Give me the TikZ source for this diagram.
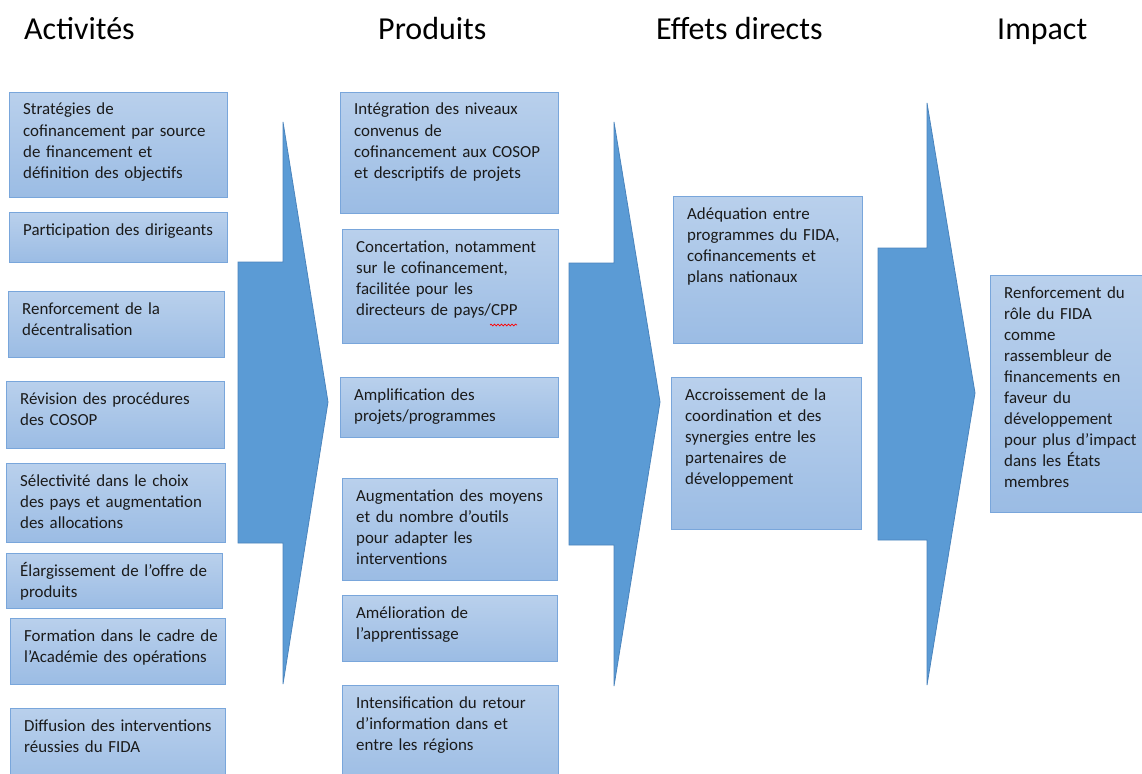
\documentclass[tikz,border=0pt]{standalone}
\usepackage{fontspec}
\setmainfont{Carlito}
\usetikzlibrary{decorations.pathmorphing}
\definecolor{boxtop}{HTML}{B9D0EC}
\definecolor{boxbot}{HTML}{9BBCE4}
\definecolor{boxline}{HTML}{79A6DB}
\definecolor{arrfill}{HTML}{5B9BD5}
\definecolor{arrline}{HTML}{4A84BD}
\definecolor{ink}{HTML}{1A1A1A}
\tikzset{
 box/.style={draw=boxline, line width=1.2pt, top color=boxtop, bottom color=boxbot, anchor=north west, inner sep=0pt},
 txt/.style={anchor=base west, inner sep=0pt, align=left, text=ink, font=\fontsize{16.9}{21}\selectfont},
 head/.style={anchor=base west, inner sep=0pt, text=black, font=\fontsize{32}{36}\selectfont},
 bigarrow/.style={fill=arrfill, draw=arrline, line width=0.8pt, line join=miter},
 spell/.style={draw=red, line width=0.7pt, decorate, decoration={snake, amplitude=0.9pt, segment length=3.5pt}}
}
\newcommand\bx[6]{%
 \pgfmathsetmacro\bxw{#4-#2}\pgfmathsetmacro\bxh{#5-#3}\pgfmathsetmacro\bxt{#4-#2-18}%
 \node[box, minimum width=\bxw pt, minimum height=\bxh pt] (#1) at (#2,#3) {};
 \node[txt, text width=\bxt pt] (#1t) at ([xshift=14pt,yshift=-23pt]#1.north west) {#6};}
\begin{document}
\begin{tikzpicture}[x=1pt,y=-1pt]
\path[use as bounding box, fill=white] (0,0) rectangle (1142,773);
% headings
\node[head] (h1) at (24,40) {Activités};
\node[head] (h2) at (378,40) {Produits};
\node[head] (h3) at (656,40) {Effets directs};
\node[head] (h4) at (997,40) {Impact};
% arrows
\draw[bigarrow] (238,262) -- (283,262) -- (283,122) -- (328,402) -- (283,684) -- (283,543) -- (238,543) -- cycle;
\draw[bigarrow] (569,263) -- (614,263) -- (614,122) -- (660,402) -- (614,686) -- (614,545) -- (569,545) -- cycle;
\draw[bigarrow] (878,248) -- (927,248) -- (927,103) -- (975,393) -- (927,685) -- (927,540) -- (878,540) -- cycle;
% Activites
\bx{a1}{9}{92}{227}{197}{Stratégies de\\cofinancement par source\\de financement et\\définition des objectifs}
\bx{a2}{9}{212}{227}{262}{Participation des dirigeants}
\bx{a3}{8}{291}{224}{357}{Renforcement de la\\décentralisation}
\bx{a4}{6}{381}{224}{448}{Révision des procédures\\des COSOP}
\bx{a5}{6}{463}{225}{542}{Sélectivité dans le choix\\des pays et augmentation\\des allocations}
\bx{a6}{6}{553}{222}{608}{Élargissement de l’offre de\\produits}
\bx{a7}{10}{618}{225}{684}{Formation dans le cadre de\\l’Académie des opérations}
\bx{a8}{10}{708}{225}{790}{Diffusion des interventions\\réussies du FIDA}
% Produits
\bx{p1}{340}{92}{558}{213}{Intégration des niveaux\\convenus de\\cofinancement aux COSOP\\et descriptifs de projets}
\bx{p2}{342}{229}{558}{343}{Concertation, notamment\\sur le cofinancement,\\facilitée pour les\\directeurs de pays/CPP}
\bx{p3}{340}{377}{558}{437}{Amplification des\\projets/programmes}
\bx{p4}{342}{478}{557}{580}{Augmentation des moyens\\et du nombre d’outils\\pour adapter les\\interventions}
\bx{p5}{342}{595}{557}{661}{Amélioration de\\l’apprentissage}
\bx{p6}{342}{685}{558}{790}{Intensification du retour\\d’information dans et\\entre les régions}
% Effets directs
\bx{e1}{673}{196}{862}{343}{Adéquation entre\\programmes du FIDA,\\cofinancements et\\plans nationaux}
\bx{e2}{671}{377}{861}{529}{Accroissement de la\\coordination et des\\synergies entre les\\partenaires de\\développement}
% Impact
\bx{i1}{990}{275}{1172}{512}{Renforcement du\\rôle du FIDA\\comme\\rassembleur de\\financements en\\faveur du\\développement\\pour plus d’impact\\dans les États\\membres}
% spell-check mark under CPP
\coordinate (sq1) at (490,325);
\coordinate (sq2) at (517,325);
\draw[spell] (sq1) -- (sq2);
\end{tikzpicture}
\end{document}
